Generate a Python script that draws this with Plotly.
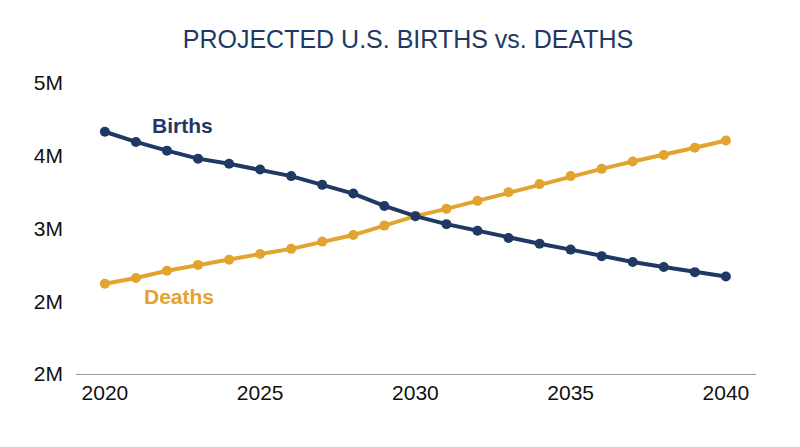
import plotly.graph_objects as go

years = list(range(2020, 2041))
births = [4.33, 4.19, 4.07, 3.96, 3.89, 3.81, 3.72, 3.60, 3.48, 3.31, 3.17,
          3.06, 2.97, 2.87, 2.79, 2.71, 2.62, 2.54, 2.47, 2.40, 2.34]
deaths = [2.24, 2.32, 2.42, 2.50, 2.57, 2.65, 2.72, 2.82, 2.91, 3.04, 3.17,
          3.27, 3.38, 3.50, 3.61, 3.72, 3.82, 3.92, 4.01, 4.11, 4.21]
y_ticks = [1, 2, 3, 4, 5]
y_labels = ["2M", "2M", "3M", "4M", "5M"]

NAVY = "#1f3864"
GOLD = "#e3a32f"

fig = go.Figure()
fig.add_trace(go.Scatter(x=years, y=deaths, mode="lines+markers",
                         line=dict(color=GOLD, width=4), marker=dict(size=10, color=GOLD)))
fig.add_trace(go.Scatter(x=years, y=births, mode="lines+markers",
                         line=dict(color=NAVY, width=4), marker=dict(size=10, color=NAVY)))

fig.add_annotation(x=2022.5, y=4.41, text="<b>Births</b>", showarrow=False,
                   font=dict(size=21, color=NAVY, family="Arial"))
fig.add_annotation(x=2022.4, y=2.06, text="<b>Deaths</b>", showarrow=False,
                   font=dict(size=21, color=GOLD, family="Arial"))

fig.update_layout(
    title=dict(text="PROJECTED U.S. BIRTHS vs. DEATHS", x=0.5, xanchor="center", y=0.95,
               font=dict(size=25, color=NAVY, family="Arial")),
    width=800, height=447,
    margin=dict(l=68, r=52, t=75, b=81),
    showlegend=False,
    paper_bgcolor="white", plot_bgcolor="white",
    font=dict(family="Arial", size=21, color="#111"),
    xaxis=dict(range=[2019.07, 2040.97], tickvals=[2020, 2025, 2030, 2035, 2040],
               showgrid=False, zeroline=False, showline=True, linecolor="#999", linewidth=1,
               ticks=""),
    yaxis=dict(range=[1, 5], tickvals=y_ticks, ticktext=y_labels, showgrid=False,
               zeroline=False, showline=False, ticklabelstandoff=12),
)

fig.write_html("out.html")
